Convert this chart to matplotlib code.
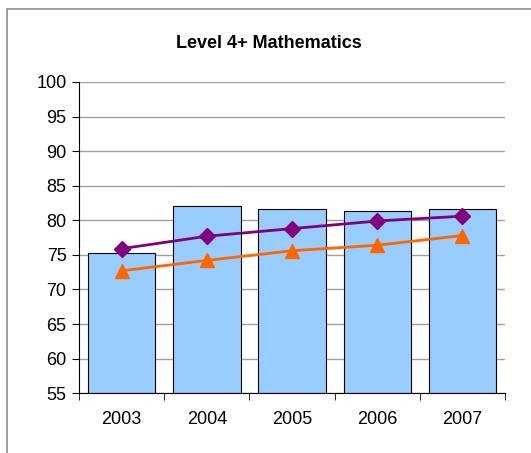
import matplotlib.pyplot as plt
from matplotlib.patches import Rectangle

plt.rcParams['font.family'] = ['Liberation Sans', 'DejaVu Sans']

years = ['2003', '2004', '2005', '2006', '2007']
bar_values = [75.3, 82.0, 81.6, 81.3, 81.7]
purple_values = [75.9, 77.7, 78.8, 79.9, 80.6]
orange_values = [72.7, 74.2, 75.6, 76.4, 77.8]

fig = plt.figure(figsize=(5.31, 4.53), dpi=100)
ax = fig.add_axes([0.149, 0.132, 0.802, 0.687])

# outer chart border (runs off the right and bottom of the image)
fig.patches.append(Rectangle((7 / 531, -0.05), 1.1, 1 - 9 / 453 + 0.05,
                             transform=fig.transFigure, fill=False,
                             edgecolor='#8c8c8c', linewidth=1.2, clip_on=False))

x = list(range(len(years)))
ax.bar(x, [v - 55 for v in bar_values], bottom=55, width=0.79,
       color='#99CCFF', edgecolor='black', linewidth=0.8, zorder=2)
ax.plot(x, purple_values, color='#800080', linewidth=2, marker='D',
        markersize=8, zorder=3)
ax.plot(x, orange_values, color='#FF6600', linewidth=2, marker='^',
        markersize=10, zorder=3)

ax.set_xlim(-0.5, len(years) - 0.5)
ax.set_ylim(55, 100)
ax.set_yticks(range(55, 101, 5))
ax.yaxis.grid(True, color='#a0a0a0', linewidth=1, zorder=0)
ax.set_axisbelow(True)

ax.set_xticks(x)
ax.set_xticklabels(years)
ax.set_xticks([i - 0.5 for i in range(len(years) + 1)], minor=True)
ax.tick_params(axis='x', which='major', length=0, pad=13, labelsize=13)
ax.tick_params(axis='x', which='minor', length=5, direction='out')
ax.tick_params(axis='y', length=5, direction='out', labelsize=13, pad=4)

ax.spines['top'].set_visible(False)
ax.spines['right'].set_visible(False)
ax.spines['left'].set_color('black')
ax.spines['bottom'].set_color('black')

fig.text(0.5 * (176 + 361) / 531, 1 - 44 / 453, 'Level 4+ Mathematics',
         ha='center', va='center', fontsize=13, fontweight='bold')

fig.savefig('out.png', dpi=100)
